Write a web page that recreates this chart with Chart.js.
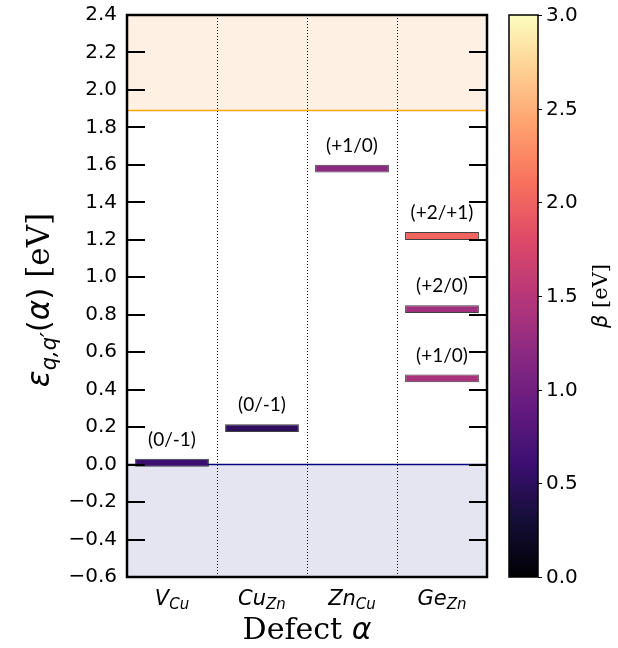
<!DOCTYPE html>
<html>
<head>
<meta charset="utf-8">
<script src="https://cdn.jsdelivr.net/npm/chart.js@4/dist/chart.umd.min.js"></script>
<style>html,body{margin:0;padding:0;background:#fff}canvas{display:block}</style>
</head>
<body>
<canvas id="c" width="618" height="648"></canvas>
<script>
// Defects (base symbol + subscript site)
const defectBase = ['V', 'Cu', 'Zn', 'Ge'];
const defectSub = ['Cu', 'Zn', 'Cu', 'Zn'];

// Charge transition levels: owning defect, energy (eV), label, beta (eV)
const levelDefect = [0, 1, 2, 3, 3, 3];
const levelEnergy = [0.01, 0.195, 1.58, 0.46, 0.83, 1.22];
const levelName = ['(0/-1)', '(0/-1)', '(+1/0)', '(+1/0)', '(+2/0)', '(+2/+1)'];
const levelBeta = [0.6, 0.5, 1.2, 1.4, 1.34, 2.02];

// Band edges (eV)
const valenceEdge = 0.0;
const conductionEdge = 1.89;

// Axis ranges
const energyMin = -0.6, energyMax = 2.4, energyStep = 0.2;
const betaMin = 0, betaMax = 3, betaStep = 0.5;

// Half thickness of a level bar, in eV
const levelHalf = 0.021;

// magma colormap stops
const magma = ['#000004','#140e36','#3b0f70','#641a80','#8c2981','#b73779',
               '#de4968','#f7705c','#fe9f6d','#fecf92','#fcfdbf'];
function hexRgb(h) { return [1, 3, 5].map(i => parseInt(h.substr(i, 2), 16)); }
function magmaColor(t) {
  t = Math.min(1, Math.max(0, t));
  const p = t * 10, i = Math.min(9, Math.floor(p)), f = p - i;
  const a = hexRgb(magma[i]), b = hexRgb(magma[i + 1]);
  return 'rgb(' + a.map((v, k) => Math.round(v + (b[k] - v) * f)).join(',') + ')';
}
const betaT = b => (b - betaMin) / (betaMax - betaMin);

const fmt = v => { v = Math.round(v * 10) / 10; return (v < 0 ? '\u2212' : '') + Math.abs(v).toFixed(1); };

// draw a run of text pieces with individual fonts and vertical shifts
function drawRich(ctx, parts, x, y) {
  let w = 0;
  parts.forEach(p => { ctx.font = p.font; p.w = ctx.measureText(p.t).width; w += p.w; });
  let cx = x - w / 2;
  ctx.textAlign = 'left';
  ctx.textBaseline = 'alphabetic';
  parts.forEach(p => { ctx.font = p.font; ctx.fillText(p.t, cx, y + (p.dy || 0)); cx += p.w; });
}

const datasets = levelEnergy.map((e, i) => ({
  data: defectBase.map((_, j) => j === levelDefect[i] ? [e - levelHalf, e + levelHalf] : null),
  backgroundColor: magmaColor(betaT(levelBeta[i])),
  borderColor: 'rgba(30,30,30,0.85)',
  borderWidth: 1,
  borderSkipped: false,
  grouped: false,
  barPercentage: 0.82,
  categoryPercentage: 1
}));

const decorations = {
  id: 'decorations',
  beforeDatasetsDraw(chart) {
    const { ctx, chartArea: a, scales: { x, y } } = chart;
    ctx.save();
    const yc = y.getPixelForValue(conductionEdge), yv = y.getPixelForValue(valenceEdge);
    ctx.fillStyle = 'rgba(245,140,30,0.12)';
    ctx.fillRect(a.left, a.top, a.right - a.left, yc - a.top);
    ctx.fillStyle = 'rgba(0,0,128,0.1)';
    ctx.fillRect(a.left, yv, a.right - a.left, a.bottom - yv);
    ctx.lineWidth = 1.5;
    ctx.strokeStyle = '#ffa500';
    ctx.beginPath(); ctx.moveTo(a.left, yc); ctx.lineTo(a.right, yc); ctx.stroke();
    ctx.strokeStyle = '#000080';
    ctx.beginPath(); ctx.moveTo(a.left, yv); ctx.lineTo(a.right, yv); ctx.stroke();
    // dotted separators between defects
    ctx.strokeStyle = '#000';
    ctx.lineWidth = 1;
    ctx.setLineDash([1, 2]);
    for (let i = 1; i < defectBase.length; i++) {
      const px = Math.round((x.getPixelForValue(i - 1) + x.getPixelForValue(i)) / 2) + 0.5;
      ctx.beginPath(); ctx.moveTo(px, a.top); ctx.lineTo(px, a.bottom); ctx.stroke();
    }
    ctx.restore();
  },
  afterDatasetsDraw(chart) {
    const { ctx, chartArea: a, scales: { x, y } } = chart;
    ctx.save();
    // level labels
    ctx.fillStyle = '#000';
    ctx.font = '19px Lato';
    ctx.textAlign = 'center';
    ctx.textBaseline = 'middle';
    levelEnergy.forEach((e, i) => {
      ctx.fillText(levelName[i], x.getPixelForValue(levelDefect[i]), y.getPixelForValue(e) - 23);
    });
    // inward ticks on both sides
    ctx.strokeStyle = '#000';
    ctx.lineWidth = 2;
    y.ticks.forEach(t => {
      const py = Math.round(y.getPixelForValue(t.value));
      ctx.beginPath();
      ctx.moveTo(a.left, py); ctx.lineTo(a.left + 18, py);
      ctx.moveTo(a.right, py); ctx.lineTo(a.right - 18, py);
      ctx.stroke();
    });
    // frame
    ctx.lineWidth = 2.5;
    ctx.strokeRect(a.left, a.top, a.right - a.left, a.bottom - a.top);
    ctx.restore();
  },
  afterDraw(chart) {
    const { ctx, chartArea: a, scales: { x } } = chart;
    ctx.save();
    ctx.fillStyle = '#000';
    // defect names
    defectBase.forEach((b, i) => {
      drawRich(ctx, [
        { t: b, font: 'italic 21px "DejaVu Sans"' },
        { t: defectSub[i], font: 'italic 15px "DejaVu Sans"', dy: 4 }
      ], x.getPixelForValue(i), a.bottom + 28);
    });
    // x title
    drawRich(ctx, [
      { t: 'Defect ', font: '30px "DejaVu Serif"' },
      { t: '\u03b1', font: 'italic 30px "DejaVu Sans"' }
    ], (a.left + a.right) / 2, a.bottom + 62);
    // y title
    ctx.save();
    ctx.translate(49, (a.top + a.bottom) / 2 + 4);
    ctx.rotate(-Math.PI / 2);
    drawRich(ctx, [
      { t: '\u03b5', font: 'italic 31px "DejaVu Sans"' },
      { t: 'q,q\u2032', font: 'italic 21px "DejaVu Sans"', dy: 7 },
      { t: '(', font: '31px "DejaVu Sans"' },
      { t: '\u03b1', font: 'italic 31px "DejaVu Sans"' },
      { t: ')', font: '31px "DejaVu Sans"' },
      { t: ' [eV]', font: '31px "DejaVu Serif"' }
    ], 0, 0);
    ctx.restore();

    // colorbar
    const cx0 = a.right + 22, cw = 29, ct = a.top, cb = a.bottom;
    const g = ctx.createLinearGradient(0, cb, 0, ct);
    magma.forEach((c, i) => g.addColorStop(i / (magma.length - 1), c));
    ctx.fillStyle = g;
    ctx.fillRect(cx0, ct, cw, cb - ct);
    ctx.strokeStyle = '#000';
    ctx.lineWidth = 1.5;
    ctx.strokeRect(cx0, ct, cw, cb - ct);
    ctx.fillStyle = '#000';
    ctx.font = '20px "DejaVu Sans"';
    ctx.textAlign = 'left';
    ctx.textBaseline = 'middle';
    ctx.lineWidth = 1;
    for (let b = betaMin; b <= betaMax + 1e-9; b += betaStep) {
      const py = Math.round(cb - betaT(b) * (cb - ct)) + 0.5;
      ctx.beginPath(); ctx.moveTo(cx0 + cw, py); ctx.lineTo(cx0 + cw + 4, py); ctx.stroke();
      ctx.fillText(b.toFixed(1), cx0 + cw + 8, py);
    }
    ctx.save();
    ctx.translate(607, (ct + cb) / 2);
    ctx.rotate(-Math.PI / 2);
    drawRich(ctx, [
      { t: '\u03b2', font: 'italic 21px "DejaVu Sans"' },
      { t: ' [eV]', font: '21px "DejaVu Serif"' }
    ], 0, 0);
    ctx.restore();
    ctx.restore();
  }
};

new Chart(document.getElementById('c'), {
  type: 'bar',
  data: {
    labels: defectBase.map((b, i) => b + '_' + defectSub[i]),
    datasets
  },
  options: {
    responsive: false,
    animation: false,
    devicePixelRatio: 1,
    layout: { padding: { left: 0, right: 131, top: 15, bottom: 0 } },
    plugins: { legend: { display: false }, tooltip: { enabled: false } },
    scales: {
      x: {
        type: 'category',
        offset: true,
        grid: { display: false },
        border: { display: false },
        ticks: { display: false },
        afterFit: s => { s.height = 71; s.paddingLeft = 0; s.paddingRight = 0; }
      },
      y: {
        type: 'linear',
        min: energyMin,
        max: energyMax,
        grid: { display: false, drawTicks: false },
        border: { display: false },
        ticks: {
          stepSize: energyStep,
          color: '#000',
          padding: 10,
          font: { family: 'DejaVu Sans', size: 20 },
          callback: v => fmt(v)
        },
        afterFit: s => { s.width = 127; s.paddingTop = 0; s.paddingBottom = 0; }
      }
    }
  },
  plugins: [decorations]
});
</script>
</body>
</html>
